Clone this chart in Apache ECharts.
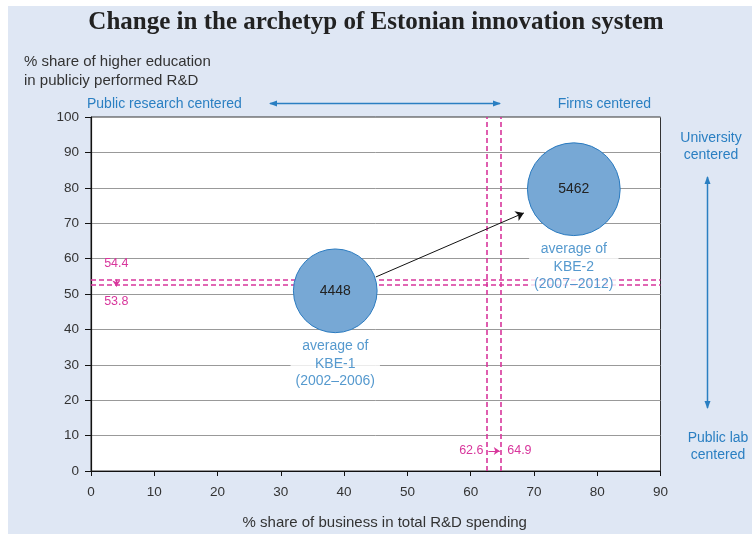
<!DOCTYPE html>
<html><head><meta charset="utf-8">
<script src="https://cdn.jsdelivr.net/npm/echarts@6/dist/echarts.min.js"></script>
<style>html,body{margin:0;padding:0;background:#fff}#c{width:752px;height:534px}</style>
</head><body><div id="c"></div>
<script>
// ---- data ----
const bubbleNames = ['KBE-1', 'KBE-2'];
const bubbleX = [38.6, 76.3];          // % share of business in total R&D spending
const bubbleY = [50.9, 79.6];          // % share of higher education in publicly performed R&D
const bubbleValue = [4448, 5462];
const bubbleCaptions = ['average of\nKBE-1\n(2002–2006)', 'average of\nKBE-2\n(2007–2012)'];
const thresholdY = [54.1, 52.7];       // drawn positions of horizontal dashed lines
const thresholdYLabels = ['54.4', '53.8'];
const thresholdX = [62.6, 64.7];       // drawn positions of vertical dashed lines
const thresholdXLabels = ['62.6', '64.9'];
const xMin = 0, xMax = 90, xStep = 10;
const yMin = 0, yMax = 100, yStep = 10;
const moveFrom = [45.0, 54.8];
const moveTo = [68.4, 72.9];

const BLUE = '#2a7fc2';
const MAG = '#d8369c';
const FONT = 'Liberation Sans, Arial, sans-serif';
const sizeOf = v => Math.sqrt(v) * 1.255;

const chart = echarts.init(document.getElementById('c'), null, {renderer: 'canvas'});

const bubbleData = bubbleNames.map((n, i) => ({name: n, value: [bubbleX[i], bubbleY[i], bubbleValue[i]]}));

function arrowHeads(x1, y1, x2, y2, color) {
  const els = [];
  const horiz = y1 === y2;
  els.push({type: 'line', shape: {x1, y1, x2, y2}, style: {stroke: color, lineWidth: 1.5}, silent: true});
  if (horiz) {
    els.push({type: 'polygon', shape: {points: [[x1 - 1, y1], [x1 + 7, y1 - 3], [x1 + 7, y1 + 3]]}, style: {fill: color}});
    els.push({type: 'polygon', shape: {points: [[x2 + 1, y2], [x2 - 7, y2 - 3], [x2 - 7, y2 + 3]]}, style: {fill: color}});
  } else {
    els.push({type: 'polygon', shape: {points: [[x1, y1 - 1], [x1 - 3, y1 + 7], [x1 + 3, y1 + 7]]}, style: {fill: color}});
    els.push({type: 'polygon', shape: {points: [[x2, y2 + 1], [x2 - 3, y2 - 7], [x2 + 3, y2 - 7]]}, style: {fill: color}});
  }
  return els;
}

const option = {
  backgroundColor: '#dfe7f4',
  animation: false,
  title: {
    text: 'Change in the archetyp of Estonian innovation system',
    left: 'center', top: 5,
    textStyle: {fontFamily: 'Liberation Serif, Times New Roman, serif', fontWeight: 'bold', fontSize: 25, color: '#222'}
  },
  grid: {left: 91, right: 91.5, top: 117, bottom: 63, outerBoundsMode: 'none', containLabel: false,
         show: true, backgroundColor: '#fff', borderColor: '#333', borderWidth: 1},
  xAxis: {
    type: 'value', min: xMin, max: xMax, interval: xStep,
    name: '% share of business in total R&D spending', nameLocation: 'middle', nameGap: 44,
    nameTextStyle: {fontFamily: FONT, fontSize: 15, color: '#333', padding: [0, 0, 0, 18]},
    axisLine: {lineStyle: {color: '#111', width: 1.2}},
    axisTick: {show: true, length: 5, lineStyle: {color: '#111'}},
    axisLabel: {fontFamily: FONT, fontSize: 13.5, color: '#333', margin: 14},
    splitLine: {show: false}
  },
  yAxis: {
    type: 'value', min: yMin, max: yMax, interval: yStep,
    axisLine: {show: true, lineStyle: {color: '#111', width: 1.2}},
    axisTick: {show: true, length: 6, lineStyle: {color: '#111'}},
    axisLabel: {fontFamily: FONT, fontSize: 13.5, color: '#333', margin: 12},
    splitLine: {show: true, lineStyle: {color: '#999', width: 1}}
  },
  series: [
    {
      type: 'scatter', data: [], z: 1, silent: true,
      markLine: {
        silent: true, symbol: 'none', animation: false,
        label: {show: false},
        lineStyle: {color: MAG, width: 1.6, type: [5, 3]},
        data: [
          ...thresholdY.map(v => ({yAxis: v})),
          ...thresholdX.map(v => ({xAxis: v})),
          [{coord: [4.0, 54.1], symbol: 'none', lineStyle: {type: 'solid', width: 1}},
           {coord: [4.0, 52.1], symbol: 'arrow', symbolSize: 6}],
          [{coord: [62.8, 5.65], symbol: 'none', lineStyle: {type: 'solid', width: 1}},
           {coord: [64.6, 5.65], symbol: 'arrow', symbolSize: 6}]
        ]
      },
      markPoint: {
        silent: true, symbol: 'circle', symbolSize: 0, animation: false,
        label: {show: true, color: MAG, fontFamily: FONT, fontSize: 12.5, position: 'inside'},
        data: [
          {coord: [4.0, 58.5], label: {formatter: thresholdYLabels[0]}},
          {coord: [4.0, 47.8], label: {formatter: thresholdYLabels[1]}},
          {coord: [60.1, 5.65], label: {formatter: thresholdXLabels[0]}},
          {coord: [67.7, 5.65], label: {formatter: thresholdXLabels[1]}}
        ]
      }
    },
    {
      type: 'scatter', z: 5, data: bubbleData,
      symbolSize: d => sizeOf(d[2]),
      itemStyle: {color: '#77a8d5', borderColor: '#2b7bc0', borderWidth: 1, opacity: 1},
      label: {show: true, position: 'inside', formatter: p => p.value[2], color: '#222', fontFamily: FONT, fontSize: 14},
      markLine: {
        silent: true, animation: false,
        symbol: ['none', 'arrow'], symbolSize: 8,
        label: {show: false},
        lineStyle: {color: '#111', width: 1, type: 'solid'},
        data: [[{coord: moveFrom}, {coord: moveTo}]]
      }
    },
    {
      type: 'scatter', z: 8, silent: true, data: bubbleData,
      symbolSize: d => sizeOf(d[2]),
      itemStyle: {color: 'rgba(0,0,0,0)'},
      label: {
        show: true, position: 'bottom', distance: 3,
        formatter: p => bubbleCaptions[p.dataIndex],
        color: BLUE, fontFamily: FONT, fontSize: 14, lineHeight: 17.5,
        backgroundColor: '#fff', padding: [2, 5, 1, 5], align: 'center'
      }
    }
  ],
  graphic: [
    {type: 'rect', shape: {x: 0, y: 0, width: 752, height: 6}, style: {fill: '#fff'}, silent: true},
    {type: 'rect', shape: {x: 0, y: 0, width: 8, height: 534}, style: {fill: '#fff'}, silent: true},
    {type: 'text', x: 24, y: 62, style: {text: '% share of higher education', font: '15px ' + FONT, fill: '#333', verticalAlign: 'middle'}},
    {type: 'text', x: 24, y: 81, style: {text: 'in publiciy performed R&D', font: '15px ' + FONT, fill: '#333', verticalAlign: 'middle'}},
    {type: 'text', x: 87, y: 104, style: {text: 'Public research centered', font: '14px ' + FONT, fill: BLUE, verticalAlign: 'middle'}},
    {type: 'text', x: 651, y: 104, style: {text: 'Firms centered', font: '14px ' + FONT, fill: BLUE, verticalAlign: 'middle', align: 'right'}},
    {type: 'text', x: 711, y: 147, style: {text: 'University\ncentered', font: '14px ' + FONT, fill: BLUE, verticalAlign: 'middle', align: 'center', lineHeight: 17}},
    {type: 'text', x: 718, y: 447, style: {text: 'Public lab\ncentered', font: '14px ' + FONT, fill: BLUE, verticalAlign: 'middle', align: 'center', lineHeight: 17}},
    ...arrowHeads(270, 103.5, 500, 103.5, BLUE),
    ...arrowHeads(707.5, 177, 707.5, 408, BLUE)
  ]
};
chart.setOption(option);
</script>
</body></html>
